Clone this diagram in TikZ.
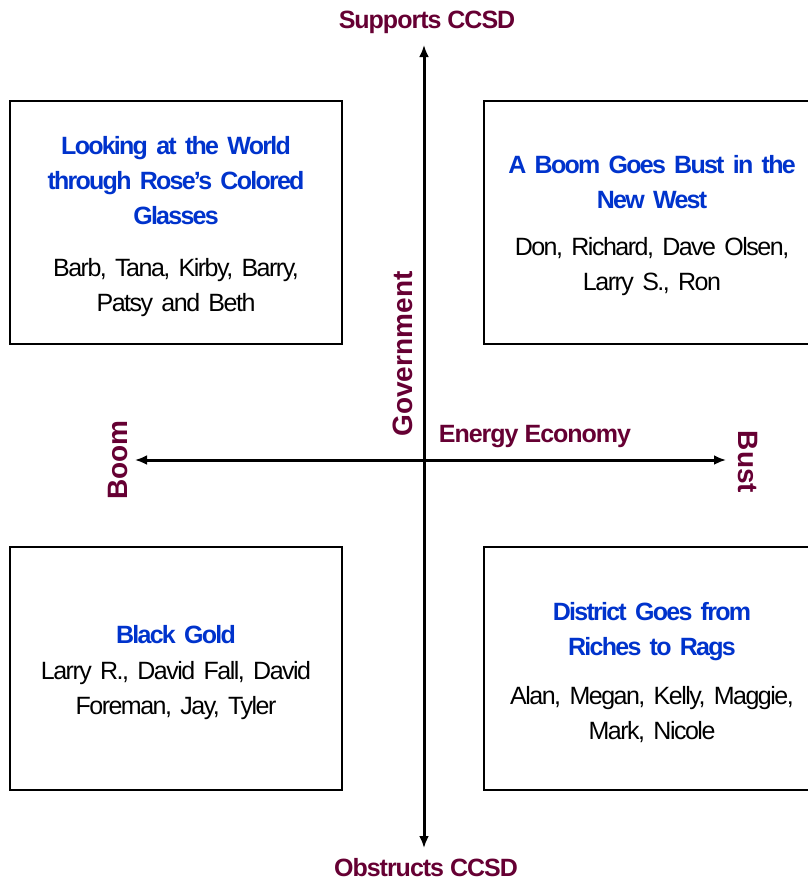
\documentclass[tikz,border=0pt]{standalone}
\usepackage{fontspec}
\setmainfont{Liberation Sans}
\newfontfamily\tightfont[LetterSpace=-6,WordSpace=0.75]{Liberation Sans}
\newfontfamily\titlefont[LetterSpace=-7,WordSpace=0.7]{Liberation Sans}
\newfontfamily\labelfont[LetterSpace=-4]{Liberation Sans}
\usetikzlibrary{arrows.meta}
\definecolor{maroon}{RGB}{102,0,51}
\definecolor{titleblue}{RGB}{0,51,204}
\newcommand{\qtitle}[1]{{\color{titleblue}\titlefont\bfseries #1}}
\begin{document}
\begin{tikzpicture}[x=1pt,y=-1pt,
  quad/.style={draw=black, line width=1.5pt, minimum width=332pt, minimum height=243pt, inner sep=0pt},
  quadtext/.style={text width=325pt, align=center, inner sep=0pt,
    font=\tightfont\fontsize{25}{35}\selectfont},
  axislabel/.style={text=maroon, inner sep=0pt, font=\labelfont\bfseries\fontsize{25}{30}\selectfont},
  sidelabel/.style={text=maroon, inner sep=0pt, font=\bfseries\fontsize{28}{30}\selectfont},
  axisline/.style={line width=3pt, {Latex[length=12pt,width=10pt]}-{Latex[length=12pt,width=10pt]}}
]
\useasboundingbox (0,0) rectangle (807,881);
% quadrant boxes
\node[quad] (tl) at (176,222.5) {};
\node[quad] (tr) at (650,222.5) {};
\node[quad] (bl) at (176,668.5) {};
\node[quad] (br) at (650,668.5) {};
\node[quadtext] (tlt) at ([yshift=-4.5pt]tl.center) {\qtitle{Looking at the World\\through Rose’s Colored\\Glasses}\\[17pt]Barb, Tana, Kirby, Barry,\\Patsy and Beth};
\node[quadtext] (trt) at ([xshift=2pt,yshift=-3pt]tr.center) {\qtitle{A Boom Goes Bust in the\\New West}\\[12pt]Don, Richard, Dave Olsen,\\Larry S., Ron};
\node[quadtext] (blt) at ([yshift=-4pt]bl.center) {\qtitle{Black Gold}\\[1pt]Larry R., David Fall, David\\Foreman, Jay, Tyler};
\node[quadtext] (brt) at ([xshift=2pt,yshift=-4pt]br.center) {\qtitle{District Goes from\\Riches to Rags}\\[14pt]Alan, Megan, Kelly, Maggie,\\Mark, Nicole};
% axes
\coordinate (top) at (424,45);
\coordinate (bottom) at (424,848);
\coordinate (left) at (135,460);
\coordinate (right) at (726,460);
\draw[axisline] (bottom) -- (top);
\draw[axisline] (left) -- (right);
% labels
\node[axislabel] (sup) at (427,22) {Supports CCSD};
\node[axislabel] (obs) at (426,868) {Obstructs CCSD};
\node[axislabel] (econ) at (535,437) {Energy Economy};
\node[sidelabel, rotate=90] (gov) at (403,354) {Government};
\node[sidelabel, rotate=90] (boom) at (118,460) {Boom};
\node[sidelabel, rotate=-90] (bust) at (748,462) {Bust};
\end{tikzpicture}
\end{document}
